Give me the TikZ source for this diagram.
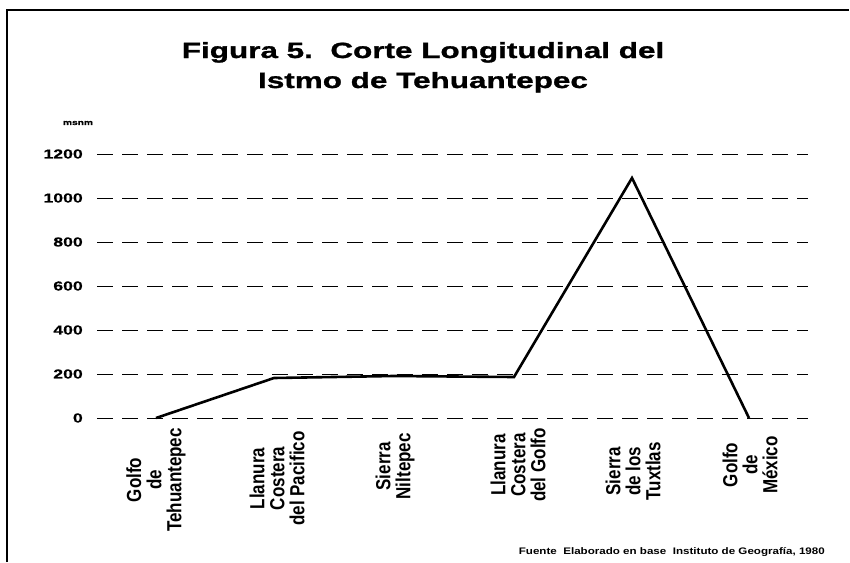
\documentclass[tikz,border=0pt]{standalone}
\usepackage{fontspec}
\setmainfont{Liberation Sans}
\newfontfamily\titlefont{Liberation Sans}[FakeStretch=1.43, FakeBold=1.2]
\newfontfamily\axisfont{Liberation Sans}[FakeStretch=1.36, FakeBold=0.6]
\newfontfamily\notefont{Liberation Sans}[FakeStretch=1.22]
\usetikzlibrary{
    calc,
    positioning
}

\begin{document}
\begin{tikzpicture}[x=1pt,y=-1pt]
  \useasboundingbox (0,0) rectangle (850,562);

  % Define styles:
  \tikzset{
    gridline/.style={line width=0.7pt, dash pattern=on 16pt off 9pt},
    profile/.style={line width=2.6pt, line join=miter},
    ylabel/.style={anchor=east, inner sep=0pt, font=\axisfont\bfseries\fontsize{13}{15}\selectfont},
    place/.style={rotate=90, yscale=1.2, anchor=east, inner sep=0pt, align=center, font=\bfseries\fontsize{17}{16.7}\selectfont}
  };

  % Frame (left and top edges)
  \draw[line width=1.5pt] (7,562) -- (7,10) -- (849,10);

  % Title
  \node[anchor=base, font=\titlefont\bfseries\fontsize{22}{26}\selectfont] (title_a) at (423,58) {Figura 5.\ \ Corte Longitudinal del};
  \node[anchor=base, font=\titlefont\bfseries\fontsize{22}{26}\selectfont] (title_b) at (423,88) {Istmo de Tehuantepec};

  % Unit of the vertical axis
  \node[font=\axisfont\bfseries\fontsize{7.5}{9}\selectfont] (unit) at (78,123) {msnm};

  % Horizontal grid lines, 200 m apart (0 m is the axis)
  \draw[gridline] (97,418) -- (808,418);
  \draw[gridline] (97,374) -- (808,374);
  \draw[gridline] (97,330) -- (808,330);
  \draw[gridline] (97,286) -- (808,286);
  \draw[gridline] (97,242) -- (808,242);
  \draw[gridline] (97,198) -- (808,198);
  \draw[gridline] (97,154) -- (808,154);

  % Values of the vertical axis
  \node[ylabel] (y_0) at (83,418) {0};
  \node[ylabel] (y_200) at (83,374) {200};
  \node[ylabel] (y_400) at (83,330) {400};
  \node[ylabel] (y_600) at (83,286) {600};
  \node[ylabel] (y_800) at (83,242) {800};
  \node[ylabel] (y_1000) at (83,198) {1000};
  \node[ylabel] (y_1200) at (83,154) {1200};

  % Points of the profile
  \coordinate (golfo_teh) at (156,418);
  \coordinate (llanura_pac) at (274,378);
  \coordinate (sierra_nil) at (393,376);
  \coordinate (llanura_golfo) at (514,377);
  \coordinate (sierra_tux) at (632,178);
  \coordinate (golfo_mex) at (749,418);

  % The cut itself
  \draw[profile] (golfo_teh) -- (llanura_pac) -- (sierra_nil) -- (llanura_golfo) -- (sierra_tux) -- (golfo_mex);

  % Names of the places, turned upright
  \node[place] (lbl_golfo_teh) at (156,428) {Golfo\\de\\Tehuantepec};
  \node[place] (lbl_llanura_pac) at (277,431) {Llanura\\Costera\\del Pacifico};
  \node[place] (lbl_sierra_nil) at (395,433) {Sierra\\Niltepec};
  \node[place] (lbl_llanura_golfo) at (518,428) {Llanura\\Costera\\del Golfo};
  \node[place] (lbl_sierra_tux) at (633,442) {Sierra\\de los\\Tuxtlas};
  \node[place] (lbl_golfo_mex) at (750,436) {Golfo\\de\\México};

  % Source
  \node[anchor=east, inner sep=0pt, font=\notefont\bfseries\fontsize{9.5}{12}\selectfont] (source) at (825,552) {Fuente\ \ Elaborado en base\ \ Instituto de Geografía, 1980};
\end{tikzpicture}
\end{document}
